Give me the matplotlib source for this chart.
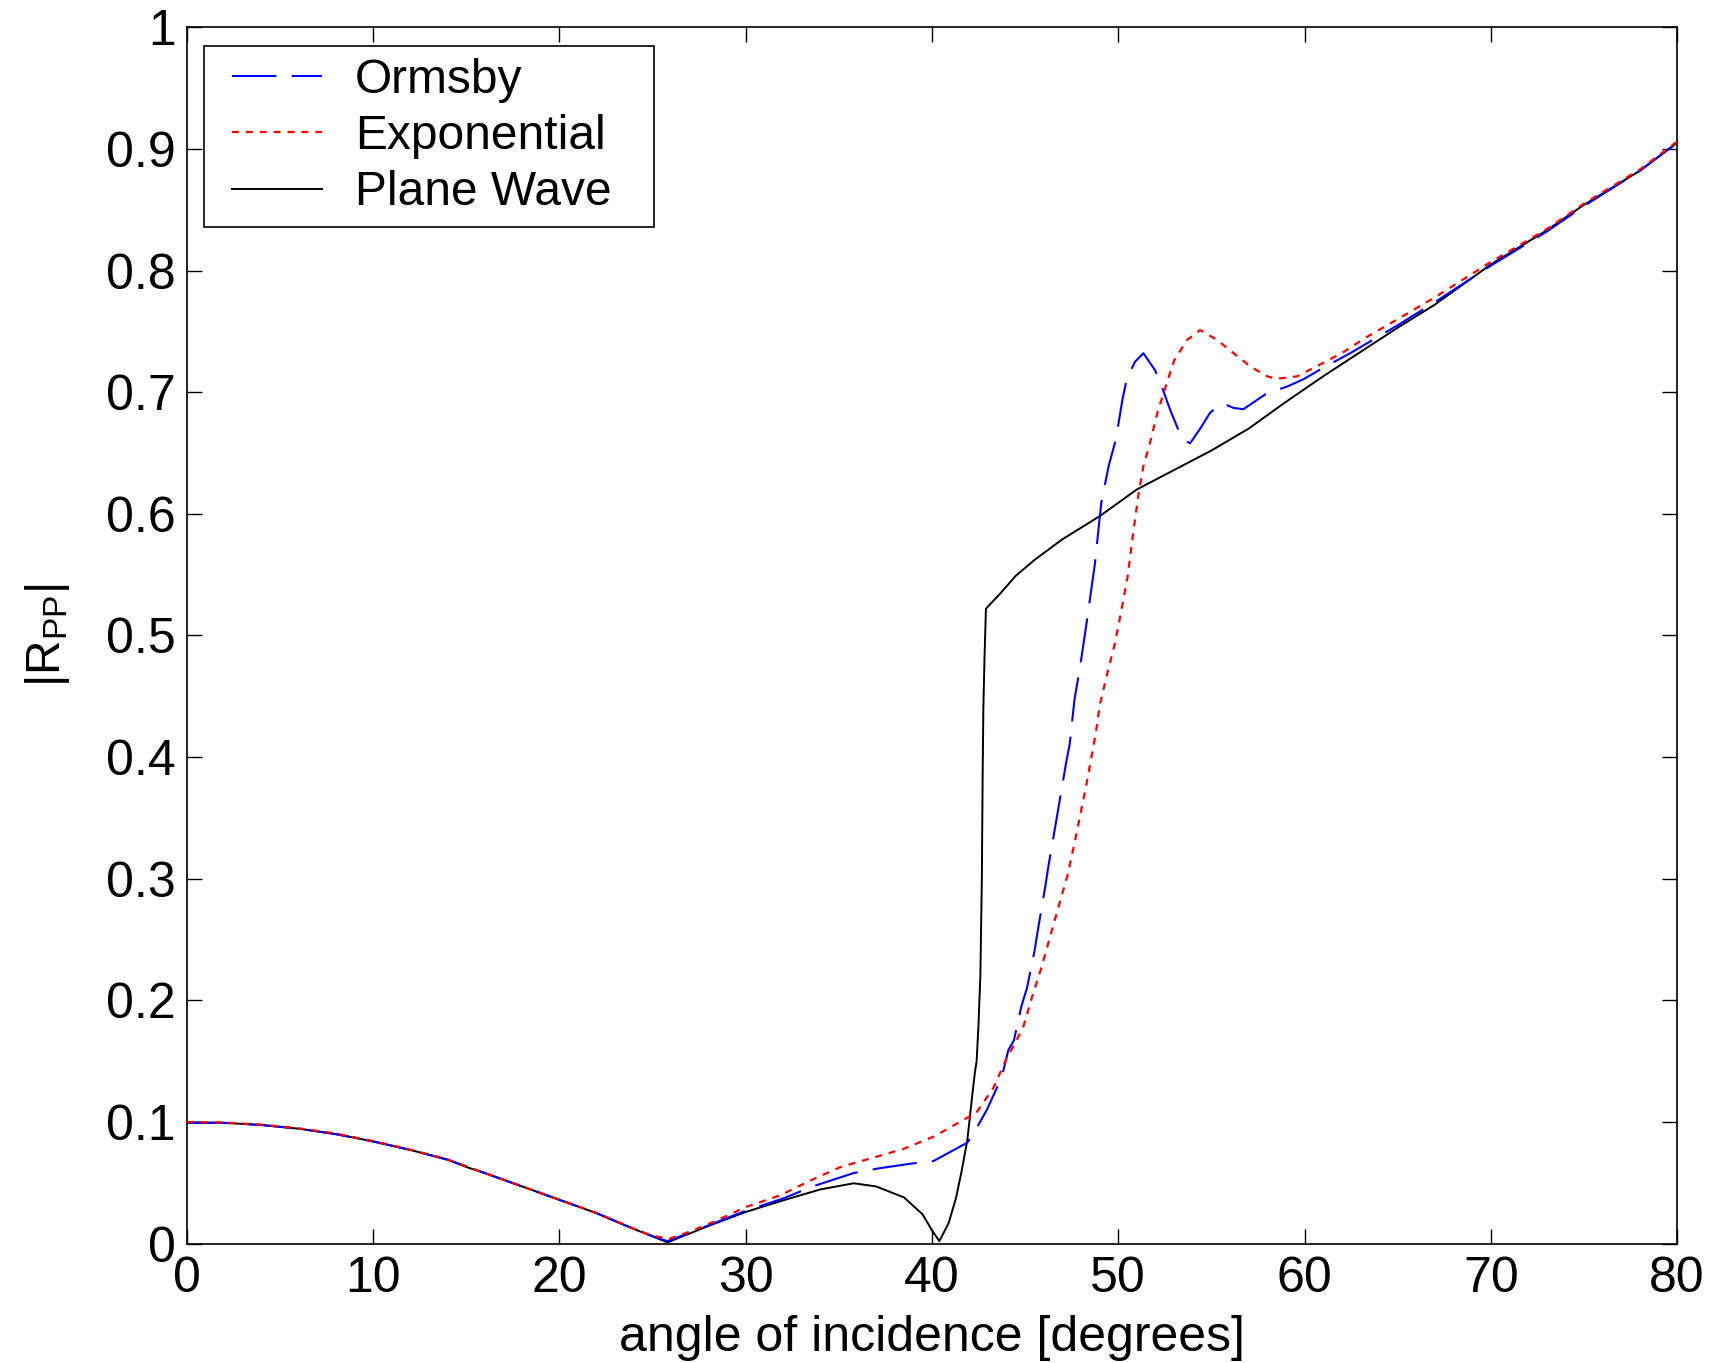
import matplotlib
matplotlib.use("Agg")
import matplotlib.pyplot as plt
from matplotlib.legend_handler import HandlerLine2D

# ---------------- data ----------------
angle_pw = [0, 2, 4, 5, 6, 8, 10, 12, 14, 15, 16, 18, 20, 22, 24, 25, 25.8, 27, 28, 30,
            32, 34, 35.8, 37, 38.5, 39.5, 40.0, 40.4, 40.9, 41.3, 41.6, 41.9, 42.1, 42.3,
            42.4, 42.5, 42.6, 42.68, 42.72, 42.76, 42.82, 42.9, 43.7, 44.5, 45.5, 47, 49,
            51, 53, 55, 57, 59, 61, 63, 65, 67, 70, 73, 75, 78, 80]
rpp_pw = [0.0995, 0.0993, 0.0975, 0.096, 0.0945, 0.090, 0.084, 0.077, 0.069, 0.063,
          0.058, 0.047, 0.036, 0.025, 0.012, 0.006, 0.001, 0.0083, 0.0145, 0.026,
          0.0355, 0.0445, 0.0496, 0.047, 0.038, 0.024, 0.011, 0.002, 0.017, 0.038,
          0.060, 0.085, 0.113, 0.14, 0.15, 0.18, 0.22, 0.30, 0.38, 0.44,
          0.48, 0.522, 0.535, 0.549, 0.562, 0.579, 0.598, 0.620, 0.636, 0.652,
          0.670, 0.692, 0.713, 0.733, 0.753, 0.772, 0.805, 0.833, 0.854, 0.882, 0.905]

angle_orm = [0, 2, 4, 6, 8, 10, 12, 14, 16, 18, 20, 22, 24, 25, 25.8, 27, 28, 30, 32, 33.6,
             35.8, 37.2, 39.0, 40.1, 41.0, 41.9, 42.4, 42.95, 43.75, 44.1,
             44.4, 44.8, 45.1, 45.5, 45.7, 46.1, 46.25, 46.7, 47.2, 47.4,
             47.65, 47.95, 48.3, 48.75, 49.0, 49.1, 49.5, 49.87, 50.24, 50.46,
             50.9, 51.35, 51.98, 52.34, 52.8, 53.23, 53.6, 53.86, 54.4, 54.93,
             55.47, 55.74, 56.2, 56.72, 57.3, 57.97, 59.05, 59.94, 61, 62.45,
             65, 67, 70, 73, 75, 78, 80]
rpp_orm = [0.0995, 0.0993, 0.0975, 0.0945, 0.090, 0.084, 0.077, 0.069, 0.058, 0.047,
           0.036, 0.025, 0.012, 0.006, 0.002, 0.009, 0.015, 0.027, 0.037, 0.047,
           0.058, 0.062, 0.066, 0.068, 0.0755, 0.083, 0.095, 0.11, 0.137, 0.159,
           0.167, 0.195, 0.21, 0.24, 0.259, 0.295, 0.31, 0.35, 0.395, 0.411,
           0.447, 0.474, 0.51, 0.559, 0.596, 0.61, 0.64, 0.661, 0.695, 0.711,
           0.725, 0.732, 0.718, 0.7045, 0.685, 0.669, 0.66, 0.658, 0.67, 0.683,
           0.69, 0.69, 0.687, 0.686, 0.692, 0.699, 0.7045, 0.7106, 0.72, 0.732,
           0.755, 0.774, 0.804, 0.832, 0.853, 0.882, 0.905]

angle_exp = [0, 2, 4, 6, 8, 10, 12, 14, 16, 18, 20, 22, 24, 25, 25.9, 27, 28.3, 30, 31.9, 33.5,
             35.1, 36.7, 38.5, 40.1, 41.5, 42.4, 43.3, 44.0, 44.5, 44.9,
             45.4, 45.9, 46.3, 46.8, 47.3, 47.8, 48.3, 48.8, 49.0, 49.4,
             49.8, 50.1, 50.5, 50.8, 51.1, 51.35, 51.7, 52.1, 52.6, 53.0,
             53.7, 54.4, 55.3, 56.2, 57.1, 58.0, 58.5, 59.6, 61.0, 62.1,
             63.3, 65, 67, 70, 73, 75, 78, 80]
rpp_exp = [0.1, 0.0995, 0.0978, 0.0948, 0.0905, 0.0843, 0.0772, 0.0692, 0.058, 0.0472,
           0.036, 0.0252, 0.0122, 0.0065, 0.004, 0.0098, 0.018, 0.030, 0.040, 0.052,
           0.063, 0.070, 0.078, 0.088, 0.100, 0.108, 0.128, 0.152, 0.166, 0.178,
           0.204, 0.228, 0.25, 0.277, 0.304, 0.34, 0.378, 0.42, 0.442, 0.468,
           0.492, 0.515, 0.548, 0.584, 0.617, 0.639, 0.658, 0.683, 0.707, 0.726,
           0.743, 0.751, 0.743, 0.732, 0.721, 0.713, 0.711, 0.713, 0.724, 0.733,
           0.745, 0.760, 0.778, 0.807, 0.834, 0.855, 0.883, 0.906]

labels = ["Ormsby", "Exponential", "Plane Wave"]
xticks = [0, 10, 20, 30, 40, 50, 60, 70, 80]
yticks = [0, 0.1, 0.2, 0.3, 0.4, 0.5, 0.6, 0.7, 0.8, 0.9, 1]
ytick_labels = ["0", "0.1", "0.2", "0.3", "0.4", "0.5", "0.6", "0.7", "0.8", "0.9", "1"]

# ---------------- style ----------------
FS = 34.5      # legend / y label
FS_TICK = 36   # tick labels / x label
plt.rcParams["font.family"] = ["Liberation Sans", "DejaVu Sans"]
plt.rcParams["mathtext.fontset"] = "custom"
plt.rcParams["mathtext.rm"] = "Liberation Sans"
plt.rcParams["mathtext.it"] = "Liberation Sans"
plt.rcParams["lines.scale_dashes"] = False

fig = plt.figure(figsize=(17.12, 13.63), dpi=100)
ax = fig.add_axes([0.1091, 0.0876, 0.9796 - 0.1091, 0.9800 - 0.0876])

l_pw, = ax.plot(angle_pw, rpp_pw, color="black", lw=1.4, zorder=2)
l_orm, = ax.plot(angle_orm, rpp_orm, color="blue", lw=1.5, dashes=(32, 11),
                 dash_capstyle="butt", zorder=3)
l_exp, = ax.plot(angle_exp, rpp_exp, color="red", lw=1.6, dashes=(5, 5),
                 dash_capstyle="butt", zorder=4)

ax.set_xlim(0, 80)
ax.set_ylim(0, 1)
ax.set_xticks(xticks)
ax.set_xticklabels([str(v) for v in xticks])
ax.set_yticks(yticks)
ax.set_yticklabels(ytick_labels)
ax.tick_params(axis="both", which="both", direction="in", length=11, width=1.0,
               top=True, right=True, labelsize=FS_TICK, color="black")
ax.tick_params(axis="x", pad=9)
ax.tick_params(axis="y", pad=8)
for sp in ax.spines.values():
    sp.set_linewidth(1.2)
    sp.set_color("black")

ax.set_xlabel("angle of incidence [degrees]", fontsize=FS_TICK)
ax.xaxis.set_label_coords(0.5, -0.059)
ax.set_ylabel(r"|R$_{\mathrm{PP}}$|", fontsize=FS)
ax.yaxis.set_label_coords(-0.077, 0.5)

# legend geometry (pixels -> fontsize units)
fs_px = FS * 100 / 72.0
bpad_px = 11.4
hl = 111.0 / fs_px
xpad = (28.0 - bpad_px) / fs_px
htp = 33.0 / fs_px
ax_w_px = 1490.3
ax_h_px = 1216.3
leg = ax.legend([l_orm, l_exp, l_pw], labels, loc="upper left",
                bbox_to_anchor=(17 / ax_w_px, 1 - 199 / ax_h_px, 450 / ax_w_px, 180 / ax_h_px),
                mode="expand", borderaxespad=0, fontsize=FS, frameon=True, fancybox=False,
                framealpha=1, edgecolor="black", borderpad=bpad_px / fs_px,
                labelspacing=0.237, handlelength=(hl * fs_px - (bpad_px - 7.0)) / fs_px,
                handletextpad=htp,
                handler_map={l_orm: HandlerLine2D(xpad=xpad),
                             l_exp: HandlerLine2D(xpad=xpad),
                             l_pw: HandlerLine2D(xpad=xpad)})
leg.get_frame().set_linewidth(1.2)

fig.savefig("out.png", dpi=100, facecolor="white")
